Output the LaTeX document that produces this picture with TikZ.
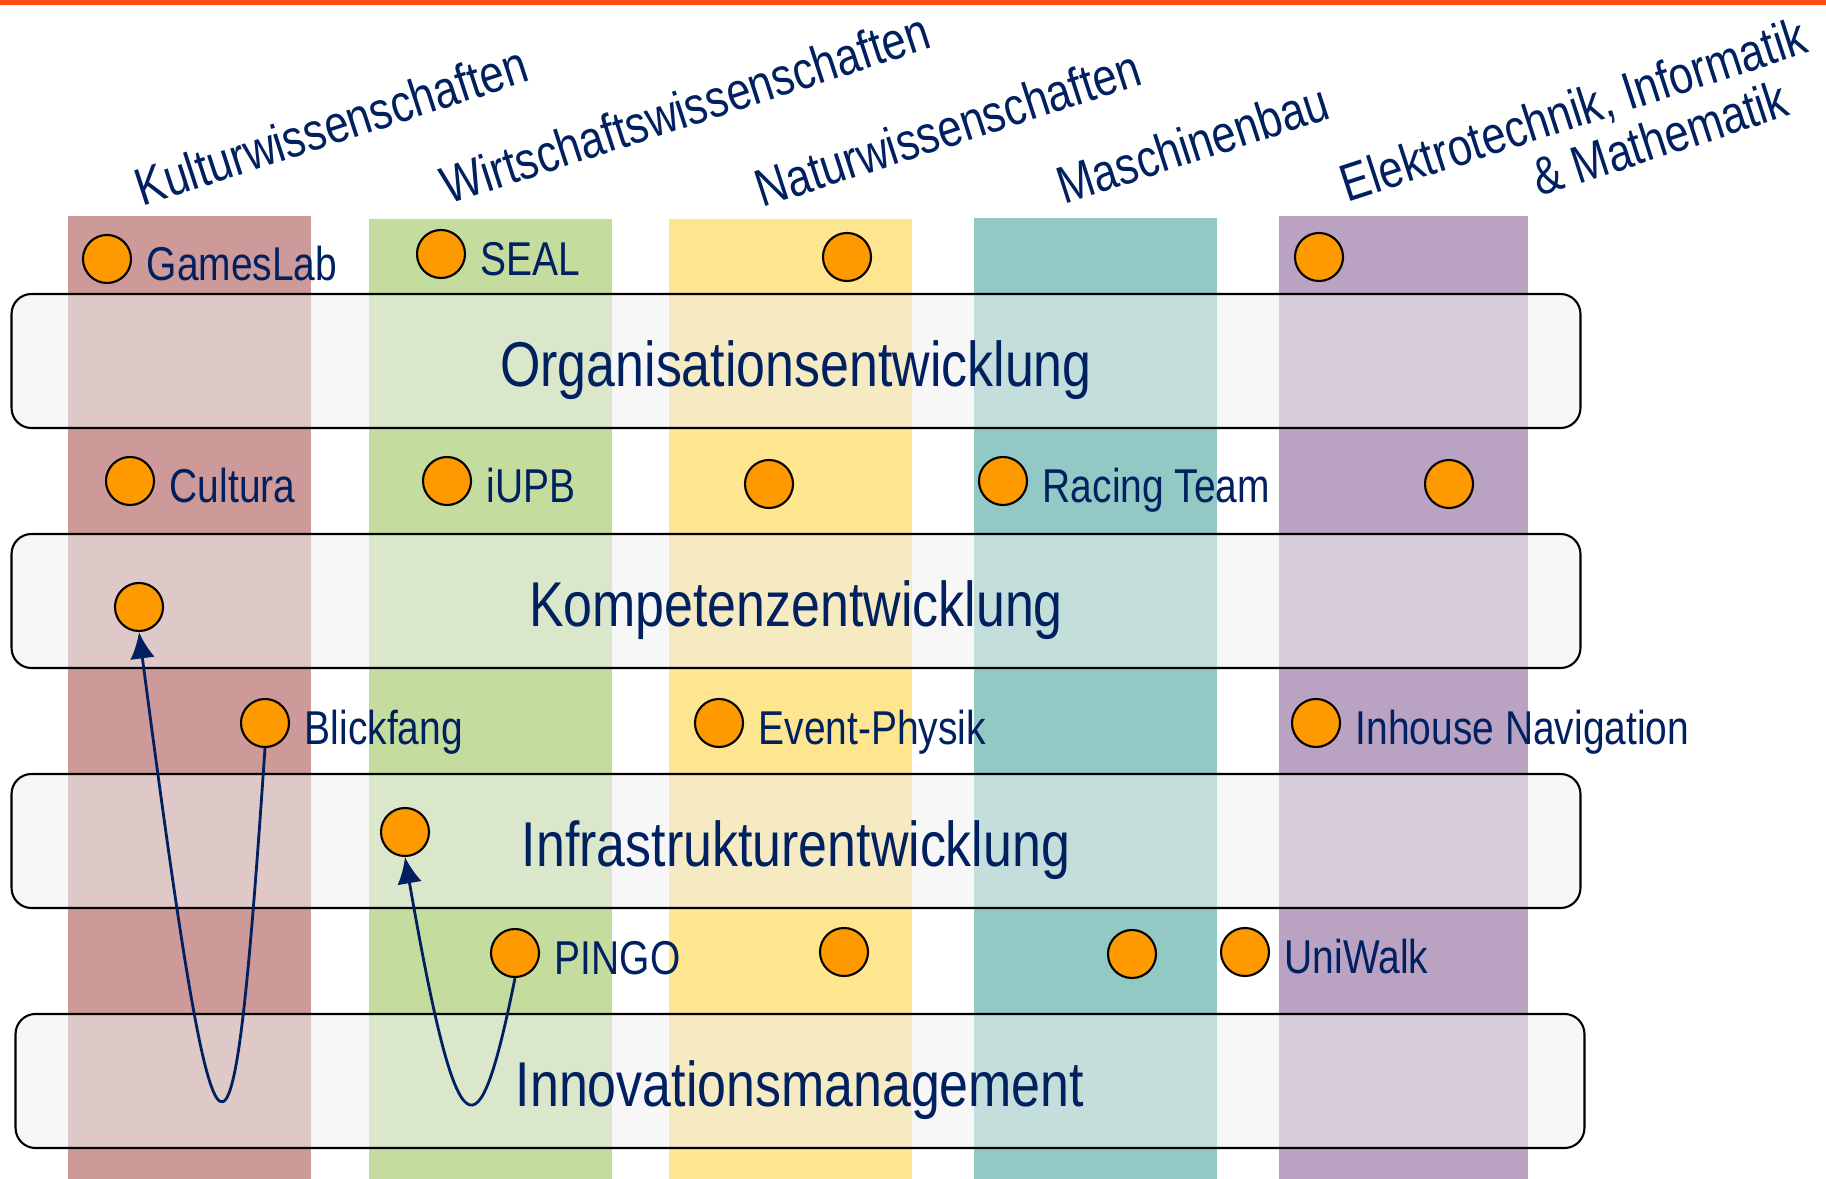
\documentclass[tikz,border=0pt]{standalone}
\usepackage{fontspec}
\setmainfont{Liberation Sans}[FakeStretch=0.82]
\usetikzlibrary{arrows.meta,positioning}
\definecolor{navy}{RGB}{0,32,96}
\definecolor{topline}{RGB}{250,78,20}
\definecolor{dot}{RGB}{255,153,0}
\definecolor{kultur}{RGB}{205,153,153}
\definecolor{wiwi}{RGB}{196,221,158}
\definecolor{natur}{RGB}{254,229,143}
\definecolor{masch}{RGB}{146,201,196}
\definecolor{eim}{RGB}{186,162,194}
\definecolor{bandfill}{RGB}{240,240,240}
\tikzset{%
	band/.style      = {draw, rounded corners=0.2cm, line width=0.6pt, fill=bandfill, fill opacity=0.54, text opacity=1, minimum width=15.68cm, minimum height=1.34cm, text=navy, font=\fontsize{18pt}{21pt}\selectfont, text height=14.3pt, text depth=0pt},
	project/.style   = {circle, draw, line width=0.6pt, fill=dot, minimum size=0.48cm, inner sep=0pt},
	projlabel/.style = {text=navy, inner sep=0pt, font=\fontsize{13.5pt}{16pt}\selectfont, text height=9.7pt, text depth=0pt, yshift=-1.3pt},
	faculty/.style   = {text=navy, rotate=18, anchor=base west, inner sep=0pt, font=\fontsize{15pt}{15.4pt}\selectfont},
	arrow/.style     = {navy, line width=0.8pt, -{Latex[length=7.5pt,width=7pt]}},
}
\begin{document}
\begin{tikzpicture}[x=0.01cm,y=-0.01cm]
	\useasboundingbox (0,0) rectangle (1826,1179);
	\fill[topline] (0,0) rectangle (1826,5);
	
	\foreach \l/\r/\t/\c in {68/311/216/kultur, 369/612/219/wiwi, 669/912/219/natur, 974/1217/218/masch, 1279/1528/216/eim} \fill[\c] (\l,\t) rectangle (\r,1179);
	
	\node[faculty] (kultur-t) at (142,207) {Kulturwissenschaften};
	\node[faculty] (wiwi-t) at (448,205) {Wirtschaftswissenschaften};
	\node[faculty] (natur-t) at (762,208) {Naturwissenschaften};
	\node[faculty] (masch-t) at (1064,205) {Maschinenbau};
	\node[faculty, align=right] (eim-t) at (1364,254) {Elektrotechnik, Informatik\\\& Mathematik\hspace*{0.7em}};
	
	\node[band] (orga) at (796,361) {Organisationsentwicklung};
	\node[band] (kompetenz) at (796,601) {Kompetenzentwicklung};
	\node[band] (infra) at (796,841) {Infrastrukturentwicklung};
	\node[band] (innovation) at (800,1081) {Innovationsmanagement};
	
	\node[project] (gameslab) at (107,259) {};
	\node[projlabel, right=4pt of gameslab] (gameslab-t) {GamesLab};
	\node[project] (seal) at (441,254) {};
	\node[projlabel, right=4pt of seal] (seal-t) {SEAL};
	\node[project] (naturA) at (847,257) {};
	\node[project] (eimA) at (1319,257) {};
	
	\node[project] (cultura) at (130,481) {};
	\node[projlabel, right=4pt of cultura] (cultura-t) {Cultura};
	\node[project] (iupb) at (447,481) {};
	\node[projlabel, right=4pt of iupb] (iupb-t) {iUPB};
	\node[project] (naturB) at (769,484) {};
	\node[project] (racing) at (1003,481) {};
	\node[projlabel, right=4pt of racing] (racing-t) {Racing Team};
	\node[project] (eimB) at (1449,484) {};
	
	\node[project] (kulturK) at (139,607) {};
	
	\node[project] (blickfang) at (265,723) {};
	\node[projlabel, right=4pt of blickfang] (blickfang-t) {Blickfang};
	\node[project] (eventphysik) at (719,723) {};
	\node[projlabel, right=4pt of eventphysik] (eventphysik-t) {Event-Physik};
	\node[project] (inhouse) at (1316,723) {};
	\node[projlabel, right=4pt of inhouse] (inhouse-t) {Inhouse Navigation};
	
	\node[project] (wiwiI) at (405,832) {};
	
	\node[project] (pingo) at (515,953) {};
	\node[projlabel, right=4pt of pingo] (pingo-t) {PINGO};
	\node[project] (naturF) at (844,952) {};
	\node[project] (maschF) at (1132,954) {};
	\node[project] (uniwalk) at (1245,952) {};
	\node[projlabel, right=4pt of uniwalk] (uniwalk-t) {UniWalk};
	
	\draw[arrow] (blickfang.south) .. controls +(-33,486) and +(79,602) .. (kulturK.south);
	\draw[arrow] (pingo.south) .. controls +(-37,183) and +(53,304) .. (wiwiI.south);
\end{tikzpicture}
\end{document}
